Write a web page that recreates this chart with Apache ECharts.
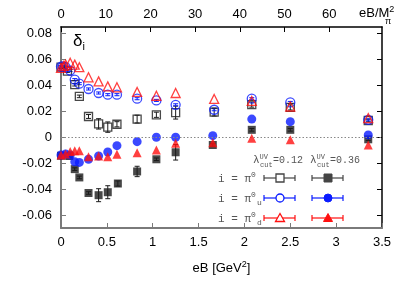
<!DOCTYPE html>
<html><head><meta charset="utf-8">
<script src="https://cdn.jsdelivr.net/npm/echarts@6/dist/echarts.min.js"></script>
<style>html,body{margin:0;padding:0;background:#fff}#c{width:407px;height:285px}</style>
</head><body><div id="c"></div>
<script>
// ---- data ----
const xTicks = [0, 0.5, 1, 1.5, 2, 2.5, 3, 3.5];
const topTicks = [0, 10, 20, 30, 40, 50, 60];
const yTicks = [-0.06, -0.04, -0.02, 0, 0.02, 0.04, 0.06, 0.08];

const pi0_012_x = [0, 0.07, 0.15, 0.2, 0.3, 0.41, 0.51, 0.61, 0.83, 1.04, 1.25, 1.67, 2.08, 2.5, 3.35];
const pi0_012_y = [0.054, 0.051, 0.0405, 0.0315, 0.016, 0.0103, 0.0078, 0.010, 0.014, 0.0173, 0.019, 0.0194, 0.0252, 0.023, 0.0129];
const pi0_012_e = [0.001, 0.001, 0.001, 0.001, 0.0015, 0.004, 0.004, 0.002, 0.003, 0.002, 0.005, 0.003, 0.002, 0.002, 0.001];

const pi0_036_x = [0, 0.09, 0.15, 0.2, 0.3, 0.41, 0.51, 0.62, 0.83, 1.04, 1.25, 1.655, 2.08, 2.5, 3.35];
const pi0_036_y = [-0.0143, -0.0145, -0.0246, -0.031, -0.043, -0.0447, -0.0424, -0.0357, -0.0264, -0.017, -0.0116, -0.006, 0.0057, 0.0057, -0.0016];
const pi0_036_e = [0.001, 0.001, 0.001, 0.001, 0.001, 0.005, 0.005, 0.002, 0.004, 0.001, 0.006, 0.001, 0.001, 0.001, 0.001];

const piu_012_x = [0, 0.02, 0.05, 0.1, 0.15, 0.2, 0.3, 0.41, 0.51, 0.61, 0.83, 1.04, 1.25, 1.67, 2.08, 2.5, 3.35];
const piu_012_y = [0.0545, 0.0547, 0.054, 0.0514, 0.0444, 0.0413, 0.0372, 0.0341, 0.0328, 0.0328, 0.0297, 0.0284, 0.025, 0.0212, 0.0297, 0.0268, 0.0134];
const piu_012_e = [0.0008, 0.0008, 0.0008, 0.0008, 0.0008, 0.0008, 0.0008, 0.0008, 0.0008, 0.0008, 0.0008, 0.0008, 0.0008, 0.0008, 0.0008, 0.0008, 0.0008];

const piu_036_x = [0, 0.05, 0.1, 0.15, 0.2, 0.3, 0.41, 0.51, 0.61, 0.83, 1.04, 1.25, 1.655, 2.08, 2.5, 3.35];
const piu_036_y = [-0.0137, -0.013, -0.0137, -0.019, -0.0194, -0.017, -0.0145, -0.0114, -0.0065, -0.0034, 0, 0, 0.0012, 0.014, 0.012, 0.0018];

const pid_012_x = [0, 0.03, 0.05, 0.1, 0.15, 0.2, 0.3, 0.41, 0.51, 0.61, 0.83, 1.04, 1.25, 1.67, 2.08, 2.5, 3.35];
const pid_012_y = [0.0535, 0.055, 0.056, 0.0574, 0.056, 0.054, 0.0462, 0.0431, 0.0392, 0.0385, 0.0349, 0.032, 0.0341, 0.0295, 0.028, 0.0237, 0.0147];

const pid_036_x = [0, 0.05, 0.1, 0.15, 0.2, 0.3, 0.41, 0.51, 0.61, 0.83, 1.04, 1.25, 1.655, 2.08, 2.5, 3.35];
const pid_036_y = [-0.0137, -0.013, -0.011, -0.0104, -0.0104, -0.015, -0.0145, -0.015, -0.0132, -0.012, -0.0098, -0.0047, -0.0042, -0.0008, -0.002, -0.006];

// ---- helpers ----
const zip = (xs, ys) => xs.map((x, i) => [x, ys[i]]);
const zip3 = (xs, ys, es) => xs.map((x, i) => [x, ys[i], es[i]]);
const BLACK = '#1a1a1a', BLUE = '#0a1cff', RED = '#ff1010';

function errSeries(data, color) {
  return {
    type: 'custom', xAxisIndex: 0, yAxisIndex: 0, data: data, silent: true, z: 2,
    renderItem: function (params, api) {
      const x = api.value(0), y = api.value(1), e = api.value(2);
      const p1 = api.coord([x, y - e]), p2 = api.coord([x, y + e]);
      const w = 2.5;
      const st = { stroke: color, lineWidth: 1 };
      return { type: 'group', children: [
        { type: 'line', shape: { x1: p1[0], y1: p1[1], x2: p2[0], y2: p2[1] }, style: st },
        { type: 'line', shape: { x1: p1[0] - w, y1: p1[1], x2: p1[0] + w, y2: p1[1] }, style: st },
        { type: 'line', shape: { x1: p2[0] - w, y1: p2[1], x2: p2[0] + w, y2: p2[1] }, style: st }
      ]};
    }
  };
}
function scat(data, symbol, size, color, open, z) {
  return {
    type: 'scatter', xAxisIndex: 0, yAxisIndex: 0, data: data, symbol: symbol, symbolSize: size, z: z,
    itemStyle: open ? { color: '#ffffff00', borderColor: color, borderWidth: 1.3 } : { color: color },
    emphasis: { disabled: true }
  };
}

const chart = echarts.init(document.getElementById('c'), null, { renderer: 'canvas' });
const FONT = 'Liberation Sans';
const MONO = 'Liberation Mono';

// legend graphic
const legendX1 = 280, legendX2 = 328;
const rows = [
  { y: 178, color: '#444', sym: 'sq', label: 'π', sub: '', lc: '#444' },
  { y: 198, color: BLUE, sym: 'ci', label: 'π', sub: 'u', lc: BLUE },
  { y: 218, color: RED, sym: 'tr', label: 'π', sub: 'd', lc: RED }
];
const graphics = [];
function symbolG(kind, cx, cy, color, open) {
  const st = open ? { fill: '#fff', stroke: color, lineWidth: 1.3 } : { fill: color, stroke: color, lineWidth: 1 };
  if (kind === 'sq') return { type: 'rect', shape: { x: cx - 4, y: cy - 4, width: 8, height: 8 }, style: st, z: 10 };
  if (kind === 'ci') return { type: 'circle', shape: { cx: cx, cy: cy, r: 4 }, style: st, z: 10 };
  return { type: 'polygon', shape: { points: [[cx, cy - 4.5], [cx + 4.5, cy + 3.5], [cx - 4.5, cy + 3.5]] }, style: st, z: 10 };
}
rows.forEach(r => {
  graphics.push({ type: 'text', left: 218, top: r.y - 7, z: 10,
    style: { text: '{a|i = π}{s|0}', rich: {
      a: { font: '11px ' + MONO, fill: '#555' },
      s: { font: '8px ' + MONO, fill: '#555', verticalAlign: 'top', padding: [0, 0, 8, 0] } } } });
  if (r.sub) graphics.push({ type: 'text', left: 257, top: r.y + 1, z: 10,
    style: { text: r.sub, font: '8px ' + MONO, fill: '#555' } });
  [[legendX1, true], [legendX2, false]].forEach(([cx, open]) => {
    const a = cx - 16, b = cx + 15;
    graphics.push({ type: 'line', shape: { x1: a, y1: r.y, x2: b, y2: r.y }, style: { stroke: r.lc, lineWidth: 1.2 }, z: 9 });
    graphics.push({ type: 'line', shape: { x1: a, y1: r.y - 3, x2: a, y2: r.y + 3 }, style: { stroke: r.lc, lineWidth: 1.2 }, z: 9 });
    graphics.push({ type: 'line', shape: { x1: b, y1: r.y - 3, x2: b, y2: r.y + 3 }, style: { stroke: r.lc, lineWidth: 1.2 }, z: 9 });
    graphics.push(symbolG(r.sym, cx, r.y, r.color, open));
  });
});
['0.12', '0.36'].forEach((v, i) => {
  const x0 = i === 0 ? 253 : 310;
  graphics.push({ type: 'text', left: x0, top: 154, z: 10,
    style: { text: '{l|λ}{t|UV}', rich: {
      l: { font: '11px ' + MONO, fill: '#555' },
      t: { font: '7px ' + MONO, fill: '#555', verticalAlign: 'top', padding: [0, 0, 6, 0] } } } });
  graphics.push({ type: 'text', left: x0 + 7, top: 162, z: 10, style: { text: 'cut', font: '7px ' + MONO, fill: '#555' } });
  graphics.push({ type: 'text', left: x0 + 20, top: 155, z: 10, style: { text: '=' + v, font: '10px ' + MONO, fill: '#555' } });
});
// delta_i label
graphics.push({ type: 'text', left: 73, top: 33, z: 10,
  style: { text: '{d|δ}{i|i}', rich: { d: { font: '17px ' + FONT, fill: '#000' }, i: { font: '11px ' + FONT, fill: '#000', verticalAlign: 'bottom', padding: [10, 0, 0, 0] } } } });
// top axis name
graphics.push({ type: 'text', left: 359, top: 5, z: 10,
  style: { text: '{a|eB/M}{s|2}', rich: { a: { font: '13px ' + FONT, fill: '#000' }, s: { font: '9px ' + FONT, fill: '#000', verticalAlign: 'top', padding: [0, 0, 8, 0] } } } });
graphics.push({ type: 'text', left: 385, top: 17, z: 10, style: { text: 'π', font: '9px ' + FONT, fill: '#000' } });

const axisFont = { fontFamily: FONT, fontSize: 13, color: '#000' };
const option = {
  animation: false,
  grid: { left: 61, right: 25, top: 27, bottom: 57, containLabel: false },
  xAxis: [
    { type: 'value', position: 'bottom', min: 0, max: 3.5, interval: 0.5,
      axisLine: { show: true, onZero: false, lineStyle: { color: '#7a7a7a', width: 2 } },
      axisTick: { show: true, inside: true, length: 5, customValues: xTicks, lineStyle: { color: '#7a7a7a' } },
      axisLabel: { customValues: xTicks, margin: 8, ...axisFont, formatter: v => String(v) },
      splitLine: { show: false },
      name: '{a|eB [GeV}{s|2}{a|]}', nameLocation: 'middle', nameGap: 32,
      nameTextStyle: { rich: { a: { fontFamily: FONT, fontSize: 13, color: '#000' }, s: { fontFamily: FONT, fontSize: 9, color: '#000', verticalAlign: 'top', padding: [0, 0, 8, 0] } } } },
    { type: 'value', position: 'top', min: 0, max: 71.8,
      axisLine: { show: true, onZero: false, lineStyle: { color: '#000', width: 1.5 } },
      axisTick: { show: true, inside: true, length: 5, customValues: topTicks, lineStyle: { color: '#000' } },
      axisLabel: { customValues: topTicks, margin: 6, ...axisFont },
      splitLine: { show: false } }
  ],
  yAxis: [
    { type: 'value', position: 'left', min: -0.07, max: 0.085,
      axisLine: { show: true, onZero: false, lineStyle: { color: '#7a7a7a', width: 2 } },
      axisTick: { show: true, inside: true, length: 5, customValues: yTicks, lineStyle: { color: '#7a7a7a' } },
      axisLabel: { customValues: yTicks, margin: 9, ...axisFont, formatter: v => Math.abs(v) < 1e-9 ? '0' : v.toFixed(2) },
      splitLine: { show: false } },
    { type: 'value', position: 'right', min: -0.07, max: 0.085,
      axisLine: { show: true, onZero: false, lineStyle: { color: '#000', width: 1.5 } },
      axisTick: { show: true, inside: true, length: 5, customValues: yTicks, lineStyle: { color: '#000' } },
      axisLabel: { show: false },
      splitLine: { show: false } }
  ],
  series: [
    { type: 'line', xAxisIndex: 0, yAxisIndex: 0, data: [], z: 1,
      markLine: { silent: true, symbol: 'none', label: { show: false },
        lineStyle: { color: '#888', type: [1.5, 2], width: 1 }, data: [{ yAxis: 0 }] } },
    errSeries(zip3(pi0_012_x, pi0_012_y, pi0_012_e), BLACK),
    scat(zip(pi0_012_x, pi0_012_y), 'rect', 8, BLACK, true, 3),
    errSeries(zip3(pi0_036_x, pi0_036_y, pi0_036_e), BLACK),
    scat(zip(pi0_036_x, pi0_036_y), 'rect', 8, BLACK, false, 3),
    errSeries(zip3(piu_012_x, piu_012_y, piu_012_e), BLUE),
    scat(zip(piu_012_x, piu_012_y), 'circle', 9, BLUE, true, 4),
    scat(zip(piu_036_x, piu_036_y), 'circle', 9, BLUE, false, 4),
    scat(zip(pid_012_x, pid_012_y), 'triangle', 9, RED, true, 5),
    scat(zip(pid_036_x, pid_036_y), 'triangle', 9, RED, false, 5)
  ],
  graphic: graphics
};
chart.setOption(option);
</script></body></html>
